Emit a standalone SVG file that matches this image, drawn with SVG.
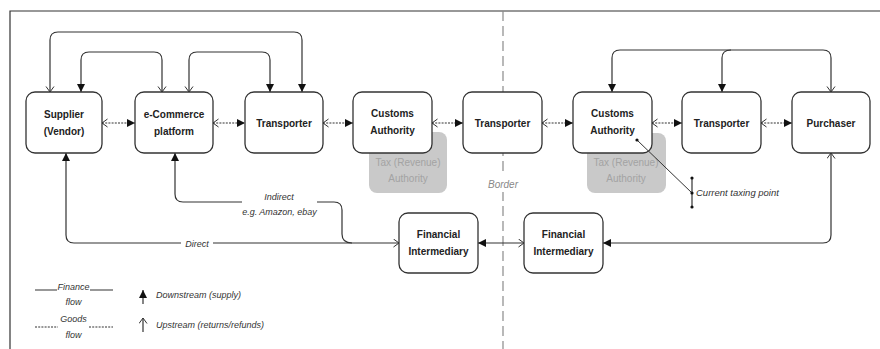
<svg xmlns="http://www.w3.org/2000/svg" width="880" height="349" viewBox="0 0 880 349">
<style>
.box{fill:#fff;stroke:#333;stroke-width:1.3}
.tax{fill:#c9c9c9;stroke:none}
.lbl{font-family:"Liberation Sans",Arial,sans-serif;font-size:10px;font-weight:bold;fill:#222;text-anchor:middle}
.taxt{font-family:"Liberation Sans",Arial,sans-serif;font-size:10px;fill:#a3a3a3;text-anchor:middle}
.it{font-family:"Liberation Sans",Arial,sans-serif;font-size:9px;font-style:italic;fill:#333}
.fin{fill:none;stroke:#333;stroke-width:1.2}
.goods{fill:none;stroke:#333;stroke-width:1.2;stroke-dasharray:2,1.2}
</style>
<defs>
<marker id="af" markerUnits="userSpaceOnUse" markerWidth="9" markerHeight="8" refX="8" refY="4" orient="auto-start-reverse">
<path d="M0,0 L8,4 L0,8 z" fill="#111"/>
</marker>
<marker id="ao" markerUnits="userSpaceOnUse" markerWidth="8" markerHeight="10" refX="6" refY="4.5" orient="auto-start-reverse">
<path d="M0.5,0.5 L6,4.5 L0.5,8.5" fill="none" stroke="#333" stroke-width="1"/>
</marker>
</defs>
<rect width="880" height="349" fill="#fff"/>
<!-- frame -->
<g id="frame">
<path d="M10,349 V11 H880" fill="none" stroke="#333" stroke-width="1.2"/>
</g>
<!-- border -->
<g id="border">
<line x1="503" y1="11" x2="503" y2="349" stroke="#8a8a8a" stroke-width="1.2" stroke-dasharray="10,5"/>
<rect x="486" y="176" width="34" height="16" fill="#fff"/>
<text x="503" y="188" class="it" style="font-size:10px;fill:#888" text-anchor="middle">Border</text>
</g>
<!-- tax authorities (behind customs) -->
<g id="tax1">
<rect class="tax" x="369" y="132" width="78" height="61" rx="8"/>
<text class="taxt" x="408" y="166">Tax (Revenue)</text>
<text class="taxt" x="408" y="182">Authority</text>
</g>
<g id="tax2">
<rect class="tax" x="587" y="133" width="79" height="60" rx="8"/>
<text class="taxt" x="626" y="166">Tax (Revenue)</text>
<text class="taxt" x="626" y="182">Authority</text>
</g>
<!-- connectors -->
<g id="connectors">
<!-- top loops left -->
<path class="fin" d="M50,92 V40 Q50,32 58,32 H294 Q302,32 302,40 V92" marker-start="url(#ao)" marker-end="url(#af)"/>
<path class="fin" d="M162,92 V60 Q162,52 154,52 H89 Q81,52 81,60 V92" marker-start="url(#ao)" marker-end="url(#af)"/>
<path class="fin" d="M189,92 V60 Q189,52 197,52 H262 Q270,52 270,60 V92" marker-start="url(#ao)" marker-end="url(#af)"/>
<!-- top loops right -->
<path class="fin" d="M831,92 V58 Q831,50 823,50 H620 Q612,50 612,58 V92" marker-start="url(#ao)" marker-end="url(#af)"/>
<path class="fin" d="M731,50 Q722,50 722,58 V92" marker-end="url(#af)"/>
<!-- goods flows -->
<path class="goods" d="M102,123 H135" marker-start="url(#ao)" marker-end="url(#af)"/>
<path class="goods" d="M213,123 H245" marker-start="url(#ao)" marker-end="url(#af)"/>
<path class="goods" d="M323,123 H353" marker-start="url(#ao)" marker-end="url(#af)"/>
<path class="goods" d="M432,123 H463" marker-start="url(#ao)" marker-end="url(#af)"/>
<path class="goods" d="M542,123 H573" marker-start="url(#ao)" marker-end="url(#af)"/>
<path class="goods" d="M652,123 H682" marker-start="url(#ao)" marker-end="url(#af)"/>
<path class="goods" d="M761,123 H792" marker-start="url(#ao)" marker-end="url(#af)"/>
<!-- direct -->
<path class="fin" d="M66,153 V235 Q66,243 74,243 H399" marker-start="url(#af)" marker-end="url(#ao)"/>
<rect x="181" y="237" width="32" height="12" fill="#fff"/>
<text class="it" x="197" y="246.5" text-anchor="middle">Direct</text>
<!-- indirect -->
<path class="fin" d="M175,153 V194 Q175,202 183,202 H242" marker-start="url(#af)"/>
<path class="fin" d="M317,202 H334 Q342,202 342,210 V234 Q342,243 352,243"/>
<text class="it" x="279" y="200" text-anchor="middle">Indirect</text>
<text class="it" x="279.5" y="215" text-anchor="middle">e.g. Amazon, ebay</text>
<!-- financial intermediaries -->
<path class="fin" d="M478,243 H524" marker-start="url(#af)" marker-end="url(#ao)"/>
<path class="fin" d="M831,153 V235 Q831,243 823,243 H603" marker-start="url(#ao)" marker-end="url(#af)"/>
</g>
<!-- nodes -->
<g id="supplier">
<rect class="box" x="26" y="92" width="76" height="61" rx="9"/>
<text class="lbl" x="64" y="118">Supplier</text>
<text class="lbl" x="64" y="135">(Vendor)</text>
</g>
<g id="ecommerce">
<rect class="box" x="135" y="92" width="78" height="61" rx="9"/>
<text class="lbl" x="174" y="118">e-Commerce</text>
<text class="lbl" x="174" y="135">platform</text>
</g>
<g id="transporter1">
<rect class="box" x="245" y="92" width="78" height="61" rx="9"/>
<text class="lbl" x="284" y="127">Transporter</text>
</g>
<g id="customs1">
<rect class="box" x="353" y="92" width="79" height="61" rx="9"/>
<text class="lbl" x="392.5" y="117">Customs</text>
<text class="lbl" x="392.5" y="134">Authority</text>
</g>
<g id="transporter2">
<rect class="box" x="463" y="92" width="79" height="61" rx="9"/>
<text class="lbl" x="502.5" y="127">Transporter</text>
</g>
<g id="customs2">
<rect class="box" x="573" y="92" width="79" height="61" rx="9"/>
<text class="lbl" x="612.5" y="117">Customs</text>
<text class="lbl" x="612.5" y="134">Authority</text>
</g>
<g id="transporter3">
<rect class="box" x="682" y="92" width="79" height="61" rx="9"/>
<text class="lbl" x="721.5" y="127">Transporter</text>
</g>
<g id="purchaser">
<rect class="box" x="792" y="92" width="78" height="61" rx="9"/>
<text class="lbl" x="831" y="127">Purchaser</text>
</g>
<g id="fi1">
<rect class="box" x="399" y="213" width="79" height="60" rx="9"/>
<text class="lbl" x="438.5" y="238">Financial</text>
<text class="lbl" x="438.5" y="255">Intermediary</text>
</g>
<g id="fi2">
<rect class="box" x="524" y="213" width="79" height="60" rx="9"/>
<text class="lbl" x="563.5" y="238">Financial</text>
<text class="lbl" x="563.5" y="255">Intermediary</text>
</g>
<!-- current taxing point -->
<g id="taxing-point">
<line x1="637" y1="140" x2="692" y2="193" stroke="#333" stroke-width="1"/>
<line x1="692" y1="178" x2="692" y2="207" stroke="#333" stroke-width="1.2"/>
<circle cx="637" cy="140" r="1.6" fill="#111"/>
<circle cx="692" cy="178" r="1.6" fill="#111"/>
<circle cx="692" cy="193" r="1.6" fill="#111"/>
<circle cx="692" cy="207" r="1.6" fill="#111"/>
<text class="it" x="696" y="196" style="font-size:9.5px">Current taxing point</text>
</g>
<!-- legend -->
<g id="legend">
<path class="fin" d="M35,290 H57 M90,290 H113"/>
<text class="it" x="73.5" y="290" text-anchor="middle">Finance</text>
<text class="it" x="73.5" y="305" text-anchor="middle">flow</text>
<path class="goods" d="M35,327 H58 M89,327 H113"/>
<text class="it" x="73.5" y="322" text-anchor="middle">Goods</text>
<text class="it" x="73.5" y="338" text-anchor="middle">flow</text>
<path class="fin" d="M143,304 V290" marker-end="url(#af)"/>
<text class="it" x="156" y="298">Downstream (supply)</text>
<path class="fin" d="M143,332 V318" marker-end="url(#ao)"/>
<text class="it" x="156" y="328">Upstream (returns/refunds)</text>
</g>
</svg>
